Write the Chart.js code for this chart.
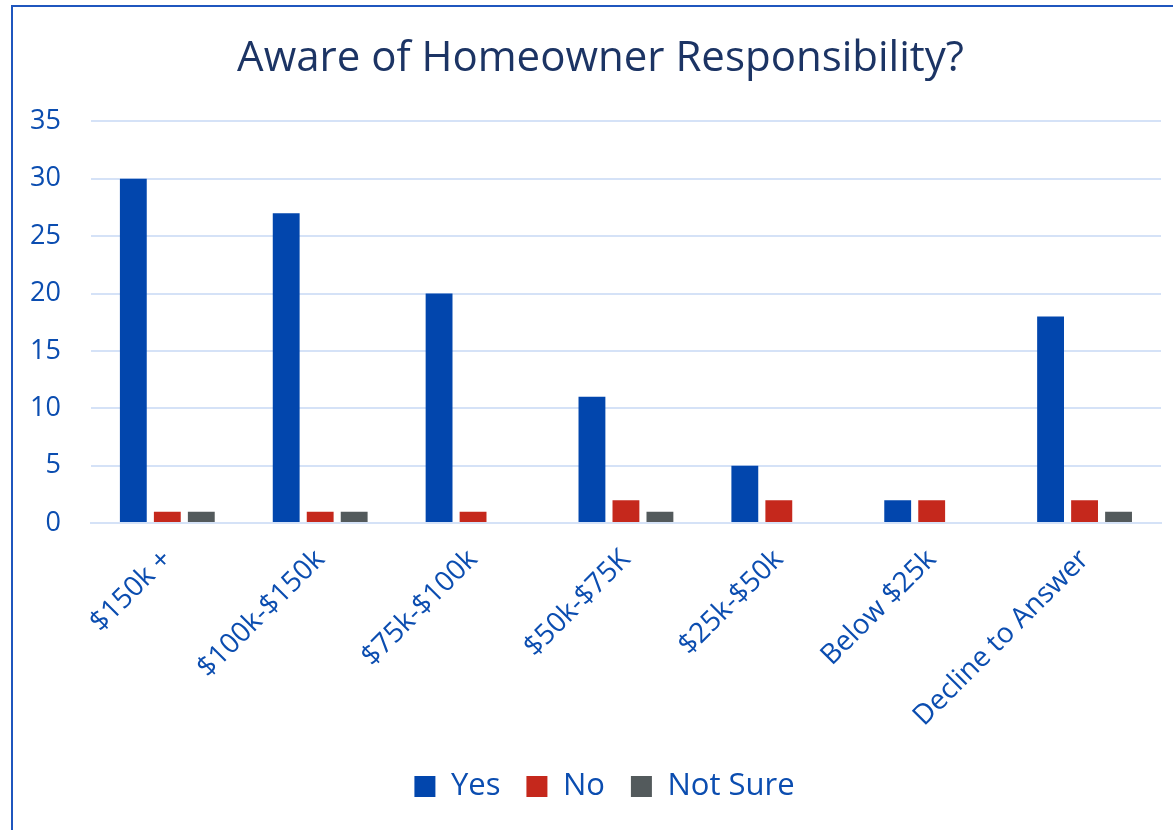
<!DOCTYPE html>
<html>
<head>
<meta charset="utf-8">
<script src="https://cdn.jsdelivr.net/npm/chart.js@4"></script>
<style>
  html, body { margin: 0; padding: 0; background: #fff; overflow: hidden; }
  #wrap { position: relative; width: 1173px; height: 830px; }
  #frame {
    position: absolute; left: 11px; top: 5px; width: 1200px; height: 900px;
    border: 2px solid #1f56be; box-sizing: border-box; pointer-events: none;
  }
  canvas { position: absolute; left: 0; top: 0; }
</style>
</head>
<body>
<div id="wrap">
  <canvas id="awareChart" width="1173" height="830"></canvas>
  <div id="frame"></div>
</div>
<script>
const incomeBands = ['$150k +', '$100k-$150k', '$75k-$100k', '$50k-$75K', '$25k-$50k', 'Below $25k', 'Decline to Answer'];
const yesCounts = [30, 27, 20, 11, 5, 2, 18];
const noCounts = [1, 1, 1, 2, 2, 2, 2];
const notSureCounts = [1, 1, 0, 1, 0, 0, 1];

const labelBlue = '#0b4db0';
const gridBlue = '#d5e2f7';
const fontFamily = '"Open Sans", "Noto Sans", sans-serif';

// centre title and legend on the frame rather than on the canvas
const nudgeHeader = {
    id: 'nudgeHeader',
    afterLayout(chart) {
        if (chart.titleBlock) {
            chart.titleBlock.left += 20;
            chart.titleBlock.right += 20;
        }
        if (chart.legend) {
            chart.legend.left += 24;
            chart.legend.right += 24;
        }
    }
};

new Chart(document.getElementById('awareChart'), {
    type: 'bar',
    data: {
        labels: incomeBands,
        datasets: [
            { label: 'Yes', data: yesCounts, backgroundColor: '#0246ad' },
            { label: 'No', data: noCounts, backgroundColor: '#c5281c' },
            { label: 'Not Sure', data: notSureCounts, backgroundColor: '#535a5c' }
        ]
    },
    plugins: [nudgeHeader],
    options: {
        responsive: false,
        animation: false,
        categoryPercentage: 0.667,
        barPercentage: 0.79,
        // y tick padding is counted twice in the axis width, so no extra left padding
        layout: { padding: { left: 0, right: 12, top: 34, bottom: 18 } },
        plugins: {
            title: {
                display: true,
                text: 'Aware of Homeowner Responsibility?',
                color: '#1c3464',
                font: { family: fontFamily, size: 42, weight: 'normal' },
                padding: { top: 0, bottom: 37 }
            },
            legend: {
                position: 'bottom',
                labels: {
                    color: labelBlue,
                    boxWidth: 21,
                    boxHeight: 21,
                    padding: 26,
                    font: { family: fontFamily, size: 31 }
                }
            },
            tooltip: { enabled: false }
        },
        scales: {
            y: {
                min: 0,
                max: 35,
                ticks: {
                    stepSize: 5,
                    padding: 30,
                    color: labelBlue,
                    font: { family: fontFamily, size: 27 }
                },
                grid: { color: gridBlue, lineWidth: 2, drawTicks: false },
                border: { display: false }
            },
            x: {
                ticks: {
                    minRotation: 45,
                    maxRotation: 45,
                    padding: 12,
                    color: labelBlue,
                    font: { family: fontFamily, size: 28 }
                },
                grid: { display: false },
                border: { color: gridBlue, width: 2 },
                // the slanted first label may hang past the plot edge
                afterFit: (scale) => {
                    scale.paddingLeft = 0;
                    scale.paddingRight = 0;
                }
            }
        }
    }
});
</script>
</body>
</html>
